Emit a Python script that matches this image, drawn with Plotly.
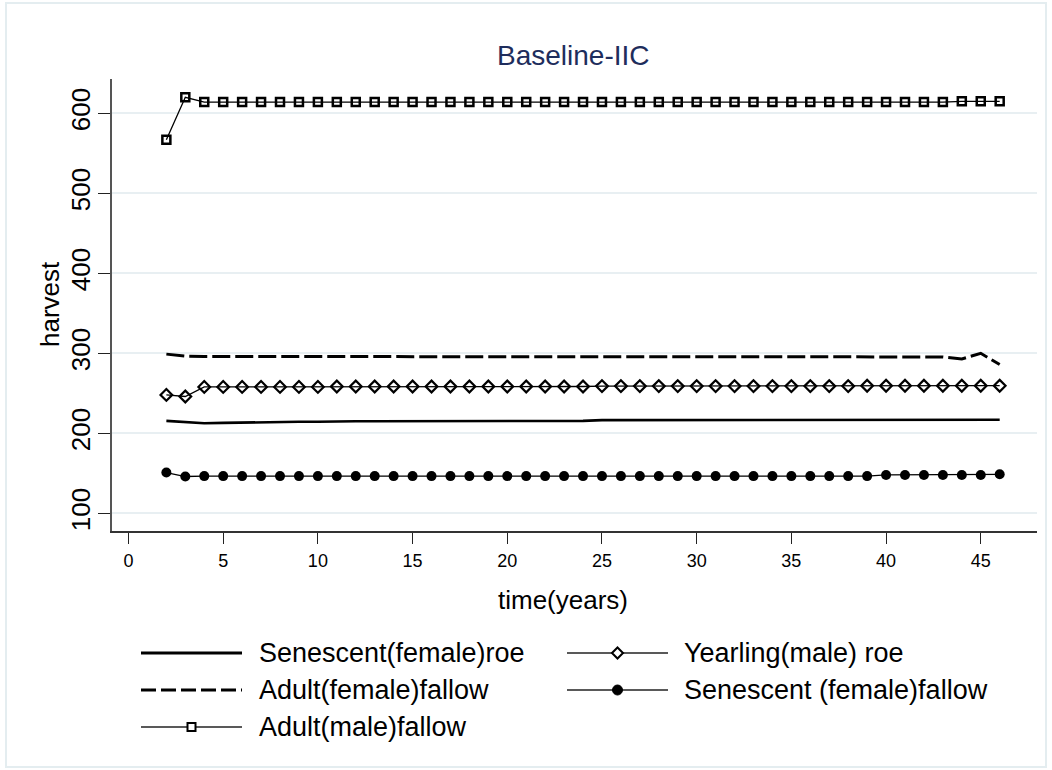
import plotly.graph_objects as go

# ---------------- data ----------------
years = list(range(2, 47))

senescent_female_roe = [215.5, 214, 212.5, 213, 213.5, 214, 214, 214.5, 214.5,
                        215, 215, 215, 215, 215, 215.5, 215.5, 215.5, 215.5, 215.5,
                        215.5, 215.5, 215.5, 215.5, 216.5, 216.5, 216.5, 216.5, 216.5,
                        216.5, 216.5, 216.5, 216.5, 216.5, 216.5, 216.5, 216.5, 216.5,
                        216.5, 216.5, 216.5, 216.5, 216.5, 216.5, 216.5, 217]

yearling_male_roe = [248, 246, 258, 258, 258, 258, 258, 258, 258,
                     258.5, 258.5, 258.5, 258.5, 258.5, 258.5, 258.5, 258.5, 258.5,
                     258.5, 258.5, 258.5, 258.5, 258.5, 259, 259, 259, 259, 259,
                     259, 259, 259, 259, 259, 259, 259, 259, 259, 259.5, 259.5,
                     259.5, 259.5, 259.5, 259.5, 259.5, 259.5]

adult_female_fallow = [299, 296.5, 296, 296, 296, 296, 296, 296, 296,
                       296, 296, 296, 296, 296, 296, 296, 296, 296, 296,
                       296, 296, 296, 296, 296, 296, 296, 296, 296, 296,
                       296, 296, 296, 296, 296, 296, 296, 296, 296, 295.5,
                       295.5, 295.5, 295.5, 293, 300, 286]

senescent_female_fallow = [151, 146, 146.5, 146.5, 146.5, 146.5, 146.5, 146.5, 146.5,
                           146.5, 146.5, 146.5, 146.5, 146.5, 146.5, 146.5, 146.5, 146.5,
                           146.5, 146.5, 146.5, 146.5, 146.5, 146.5, 146.5, 146.5, 146.5,
                           146.5, 146.5, 146.5, 146.5, 146.5, 146.5, 146.5, 146.5, 146.5,
                           146.5, 146.5, 148, 148, 148, 148, 148, 148, 148.8]

adult_male_fallow = [567, 620, 614, 614, 614, 614, 614, 614, 614,
                     614, 614, 614, 614, 614, 614, 614, 614, 614, 614,
                     614, 614, 614, 614, 614, 614, 614, 614, 614, 614,
                     614, 614, 614, 614, 614, 614, 614, 614, 614, 614,
                     614, 614, 614, 615, 615, 615]

series_names = ["Senescent(female)roe", "Yearling(male) roe", "Adult(female)fallow",
                "Senescent (female)fallow", "Adult(male)fallow"]

x_ticks = [0, 5, 10, 15, 20, 25, 30, 35, 40, 45]
y_ticks = [100, 200, 300, 400, 500, 600]

title_text = "Baseline-IIC"
x_title = "time(years)"
y_title = "harvest"

# ---------------- layout geometry (pixels) ----------------
W, H = 1052, 770
L, R, T, B = 112, 15, 79, 239
PW = W - L - R
PH = H - T - B
FONT = "Liberation Sans, Arial, sans-serif"


def px(x):
    return (x - L) / PW


def py(y):
    return (H - B - y) / PH


fig = go.Figure()

fig.add_trace(go.Scatter(x=years, y=senescent_female_roe, mode="lines",
                         name=series_names[0], line=dict(color="black", width=2.6)))
fig.add_trace(go.Scatter(x=years, y=yearling_male_roe, mode="lines+markers",
                         name=series_names[1], line=dict(color="black", width=1.3),
                         marker=dict(symbol="diamond-open", size=9, color="black",
                                     line=dict(width=2.2, color="black"))))
fig.add_trace(go.Scatter(x=years, y=adult_female_fallow, mode="lines",
                         name=series_names[2],
                         line=dict(color="black", width=3, dash="18px,5px")))
fig.add_trace(go.Scatter(x=years, y=senescent_female_fallow, mode="lines+markers",
                         name=series_names[3], line=dict(color="black", width=1.3),
                         marker=dict(symbol="circle", size=10, color="black")))
fig.add_trace(go.Scatter(x=years, y=adult_male_fallow, mode="lines+markers",
                         name=series_names[4], line=dict(color="black", width=1.3),
                         marker=dict(symbol="square-open", size=8, color="black",
                                     line=dict(width=2.5, color="black"))))

shapes = []
annotations = []

# outer frame
shapes.append(dict(type="rect", xref="paper", yref="paper",
                   x0=px(6), x1=px(1046), y0=py(3), y1=py(767),
                   line=dict(color="#e4edf0", width=2), fillcolor="rgba(0,0,0,0)",
                   layer="below"))

# ---------------- manual legend ----------------
rows_y = [653, 690, 727]
col_line = [(141, 242), (567, 668)]
col_text = [257, 682]

legend_items = [
    (0, 0, series_names[0], "solid"),
    (0, 1, series_names[1], "diamond"),
    (1, 0, series_names[2], "dash"),
    (1, 1, series_names[3], "circle"),
    (2, 0, series_names[4], "square"),
]

for r, c, name, kind in legend_items:
    yy = rows_y[r]
    x0, x1 = col_line[c]
    xm = (x0 + x1) / 2
    if kind == "solid":
        ln = dict(color="black", width=3)
    elif kind == "dash":
        ln = dict(color="black", width=3, dash="15px,5px")
    else:
        ln = dict(color="#222", width=1.5)
    shapes.append(dict(type="line", xref="paper", yref="paper",
                       x0=px(x0), x1=px(x1), y0=py(yy), y1=py(yy), line=ln))
    if kind == "diamond":
        d = 5.5
        path = (f"M {px(xm - d)},{py(yy)} L {px(xm)},{py(yy - d)} "
                f"L {px(xm + d)},{py(yy)} L {px(xm)},{py(yy + d)} Z")
        shapes.append(dict(type="path", xref="paper", yref="paper", path=path,
                           fillcolor="white", line=dict(color="black", width=2)))
    elif kind == "circle":
        d = 5
        shapes.append(dict(type="circle", xref="paper", yref="paper",
                           x0=px(xm - d), x1=px(xm + d), y0=py(yy + d), y1=py(yy - d),
                           fillcolor="black", line=dict(color="black", width=1)))
    elif kind == "square":
        d = 4
        shapes.append(dict(type="rect", xref="paper", yref="paper",
                           x0=px(xm - d), x1=px(xm + d), y0=py(yy + d), y1=py(yy - d),
                           fillcolor="white", line=dict(color="black", width=2)))
    annotations.append(dict(text=name, xref="paper", yref="paper",
                            x=px(col_text[c]), y=py(yy), xanchor="left", yanchor="middle",
                            showarrow=False, font=dict(size=27, color="black", family=FONT)))

# title and axis titles
annotations.append(dict(text=title_text, xref="paper", yref="paper",
                        x=px(573), y=py(56), xanchor="center", yanchor="middle",
                        showarrow=False, font=dict(size=28, color="#1e2d5c", family=FONT)))
annotations.append(dict(text=x_title, xref="paper", yref="paper",
                        x=px(563), y=py(600), xanchor="center", yanchor="middle",
                        showarrow=False, font=dict(size=26, color="black", family=FONT)))
annotations.append(dict(text=y_title, xref="paper", yref="paper",
                        x=px(50), y=py(304), xanchor="center", yanchor="middle",
                        textangle=-90,
                        showarrow=False, font=dict(size=26, color="black", family=FONT)))

fig.update_layout(
    width=W, height=H,
    margin=dict(l=L, r=R, t=T, b=B),
    paper_bgcolor="white", plot_bgcolor="white",
    showlegend=False,
    shapes=shapes, annotations=annotations,
    font=dict(family=FONT, color="black"),
)

fig.update_xaxes(range=[-0.871, 47.97], tickvals=x_ticks, ticks="outside", ticklen=11,
                 tickwidth=1.3, tickcolor="#222", showgrid=False, zeroline=False,
                 showline=True, linecolor="#333", linewidth=1.5,
                 tickfont=dict(size=18, color="black", family=FONT), ticklabelstandoff=2)
fig.update_yaxes(range=[77.9, 642.9], tickvals=y_ticks, ticks="outside", ticklen=12,
                 tickwidth=1.3, tickcolor="#222", showgrid=True, gridcolor="#e8eff2",
                 gridwidth=2, zeroline=False, showline=True, linecolor="#555",
                 linewidth=1.5, tickangle=-90,
                 tickfont=dict(size=26, color="black", family=FONT), ticklabelstandoff=-2)

fig.write_html("out.html")
